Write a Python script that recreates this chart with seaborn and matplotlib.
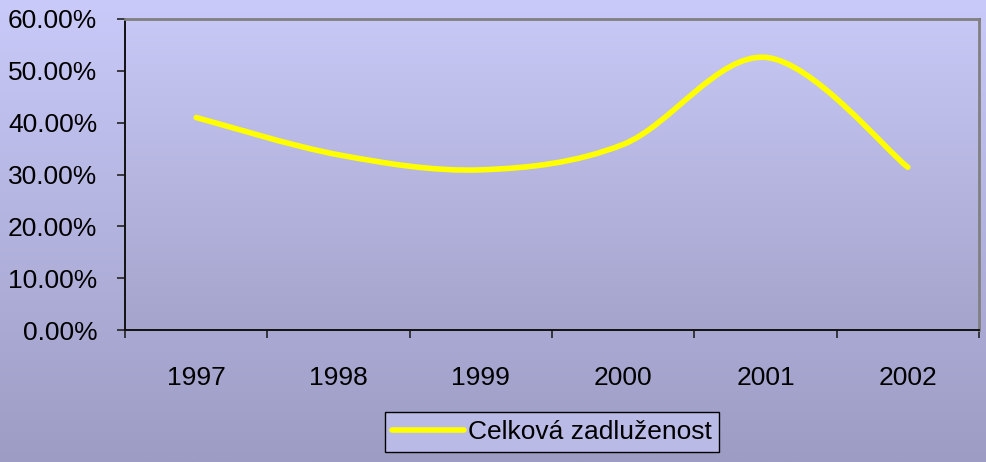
import numpy as np
import matplotlib
matplotlib.use("Agg")
import matplotlib.pyplot as plt
from matplotlib.path import Path
from matplotlib.patches import PathPatch
from matplotlib.lines import Line2D
from matplotlib.colors import LinearSegmentedColormap
import seaborn as sns

years = ["1997", "1998", "1999", "2000", "2001", "2002"]
values = [41.0, 33.8, 30.9, 35.8, 52.6, 31.4]
yticks = [0, 10, 20, 30, 40, 50, 60]
series_name = "Celková zadluženost"

sns.set_theme(style="white")
plt.rcParams["font.family"] = ["Liberation Sans", "DejaVu Sans"]

FS = 19

fig = plt.figure(figsize=(9.86, 4.62), dpi=100)

# figure background gradient
bg = fig.add_axes([0, 0, 1, 1], zorder=-10)
bg_cmap = LinearSegmentedColormap.from_list("bg", ["#9c9cc4", "#cacafa"])
bg.imshow(np.linspace(0, 1, 256).reshape(-1, 1), aspect="auto", cmap=bg_cmap,
          origin="lower", extent=[0, 1, 0, 1])
bg.set_axis_off()

L, R, B, T = 125 / 986, 979 / 986, 1 - 330 / 462, 1 - 19 / 462
ax = fig.add_axes([L, B, R - L, T - B])
ax.patch.set_alpha(0)

x = np.arange(len(years))
sns.lineplot(x=x, y=values, ax=ax, color="#ffff00", linewidth=4, legend=False)
for ln in ax.lines:
    ln.set_visible(False)

# smoothed line (cubic Bezier through data points, Catmull-Rom style)
pts = np.column_stack([x, values]).astype(float)
verts = [tuple(pts[0])]
codes = [Path.MOVETO]
n = len(pts)
for i in range(n - 1):
    p0 = pts[i - 1] if i > 0 else pts[i]
    p1 = pts[i]
    p2 = pts[i + 1]
    p3 = pts[i + 2] if i + 2 < n else pts[i + 1]
    c1 = p1 + (p2 - p0) / 6.0
    c2 = p2 - (p3 - p1) / 6.0
    verts += [tuple(c1), tuple(c2), tuple(p2)]
    codes += [Path.CURVE4] * 3
ax.add_patch(PathPatch(Path(verts, codes), facecolor="none", edgecolor="#ffff00",
                       linewidth=4, capstyle="round", joinstyle="round", zorder=3))

ax.set_xlim(-0.5, len(years) - 0.5)
ax.set_ylim(0, 60)

# plot-area gradient
pa_cmap = LinearSegmentedColormap.from_list("pa", ["#a4a4cc", "#c8c8f6"])
ax.imshow(np.linspace(0, 1, 256).reshape(-1, 1), aspect="auto", cmap=pa_cmap,
          origin="lower", extent=[-0.5, len(years) - 0.5, 0, 60], zorder=0)

ax.set_yticks(yticks)
ax.set_yticklabels([f"{v:.2f}%" for v in yticks], fontsize=FS, color="black")
ax.set_xticks(x)
ax.set_xticklabels(years, fontsize=FS, color="black")
ax.set_xticks(np.arange(-0.5, len(years)), minor=True)
ax.tick_params(axis="x", which="major", length=0, pad=26)
ax.tick_params(axis="x", which="minor", length=6, width=1.2, color="#222222", direction="out")
ax.tick_params(axis="y", which="major", length=6, width=1.2, color="#222222", direction="out", pad=14)
ax.yaxis.set_ticks_position("left")
ax.xaxis.set_ticks_position("bottom")
ax.tick_params(axis="x", which="both", bottom=True, top=False)

for side in ["left", "bottom"]:
    ax.spines[side].set_color("#111111")
    ax.spines[side].set_linewidth(1.4)
for side in ["top", "right"]:
    ax.spines[side].set_visible(True)
    ax.spines[side].set_color("#808080")
    ax.spines[side].set_linewidth(2)
ax.grid(False)

handle = Line2D([0], [0], color="#ffff00", linewidth=4, solid_capstyle="round")
leg = fig.legend([handle], [series_name], loc="center", bbox_to_anchor=(552 / 986, 1 - 432 / 462),
                 fontsize=FS, frameon=True, fancybox=False, handlelength=2.7,
                 handletextpad=0.15, borderpad=0.3, borderaxespad=0, labelcolor="black")
fr = leg.get_frame()
fr.set_facecolor("#babae6")
fr.set_edgecolor("#000000")
fr.set_linewidth(1.0)
fr.set_alpha(1)

fig.savefig("out.png", dpi=100)
